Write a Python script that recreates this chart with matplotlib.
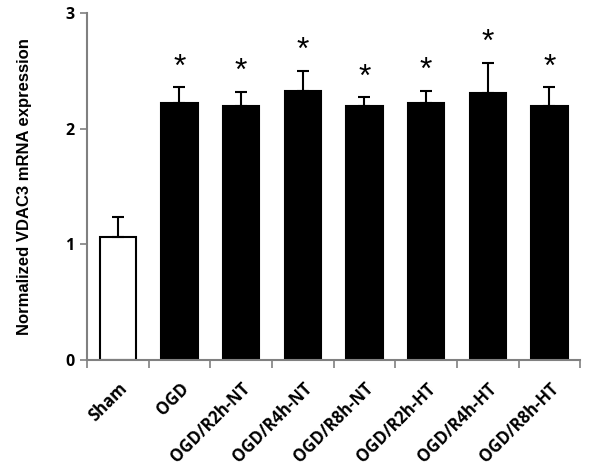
import numpy as np
import matplotlib.pyplot as plt

groups = ['Sham', 'OGD', 'OGD/R2h-NT', 'OGD/R4h-NT', 'OGD/R8h-NT',
          'OGD/R2h-HT', 'OGD/R4h-HT', 'OGD/R8h-HT']
means = [1.06, 2.22, 2.20, 2.33, 2.20, 2.22, 2.31, 2.20]
sems = [0.18, 0.14, 0.12, 0.17, 0.07, 0.11, 0.26, 0.16]
signif = [False, True, True, True, True, True, True, True]

fig = plt.figure(figsize=(6, 4.74), dpi=100)
ax = fig.add_axes([0.145, 0.2405, 0.822, 0.732])

x = np.arange(len(groups))
colors = ['white' if g == 'Sham' else 'black' for g in groups]
ax.bar(x, means, width=0.59, color=colors, edgecolor='black', linewidth=1.5, zorder=2)
ax.errorbar(x, means, yerr=[np.zeros(len(sems)), sems], fmt='none', ecolor='black',
            elinewidth=1.5, capsize=4, capthick=1.5, zorder=3)

for xi, m, s, sig in zip(x, means, sems, signif):
    if sig:
        ax.text(xi, m + s + 0.04, '*', ha='center', va='bottom', fontsize=23,
                fontfamily='Liberation Sans')

ax.set_xlim(-0.5, len(groups) - 0.5)
ax.set_ylim(0, 3)
ax.set_yticks([0, 1, 2, 3])
ax.set_yticklabels(['0', '1', '2', '3'], fontfamily='Open Sans', fontweight='bold', fontsize=11.5)
ax.set_xticks(x)
ax.set_xticklabels(groups, rotation=45, ha='right', rotation_mode='anchor',
                   fontfamily='Open Sans', fontweight='bold', fontsize=12)
ax.set_xticks(np.arange(len(groups) + 1) - 0.5, minor=True)
ax.tick_params(axis='x', which='major', length=0, pad=14)
ax.tick_params(axis='x', which='minor', length=6, color='#808080', width=1.2)
ax.tick_params(axis='y', length=5, color='#808080', width=1.2, pad=4)

for side in ['top', 'right']:
    ax.spines[side].set_visible(False)
for side in ['left', 'bottom']:
    ax.spines[side].set_color('#808080')
    ax.spines[side].set_linewidth(1.5)

ax.set_ylabel('Normalized VDAC3 mRNA expression', fontfamily='Liberation Sans',
              fontweight='bold', fontsize=12, labelpad=24)

fig.savefig('out.png', dpi=100)
